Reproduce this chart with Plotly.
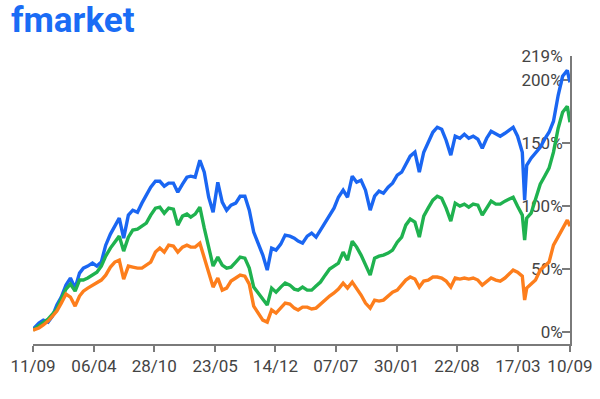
import plotly.graph_objects as go

dates = [
    "2020-09-11", "2020-10-01", "2020-10-16", "2020-11-01", "2020-11-16", "2020-12-01", "2020-12-16",
    "2021-01-01", "2021-01-16", "2021-02-01", "2021-02-16", "2021-03-01", "2021-03-16",
    "2021-04-01", "2021-04-16", "2021-05-01", "2021-05-16", "2021-06-01", "2021-06-16",
    "2021-07-01", "2021-07-16", "2021-08-01", "2021-08-16", "2021-09-01", "2021-09-16",
    "2021-10-01", "2021-10-16", "2021-11-01", "2021-11-16", "2021-12-01", "2021-12-16",
    "2022-01-01", "2022-01-16", "2022-02-01", "2022-02-16", "2022-03-01", "2022-03-16",
    "2022-04-01", "2022-04-16", "2022-05-01", "2022-05-16", "2022-06-01", "2022-06-16",
    "2022-07-01", "2022-07-16", "2022-08-01", "2022-08-16", "2022-09-01", "2022-09-16",
    "2022-10-01", "2022-10-16", "2022-11-01", "2022-11-16", "2022-12-01", "2022-12-16",
    "2023-01-01", "2023-01-16", "2023-02-01", "2023-02-16", "2023-03-01", "2023-03-16",
    "2023-04-01", "2023-04-16", "2023-05-01", "2023-05-16", "2023-06-01", "2023-06-16",
    "2023-07-01", "2023-07-16", "2023-08-01", "2023-08-16", "2023-09-01", "2023-09-16",
    "2023-10-01", "2023-10-16", "2023-11-01", "2023-11-16", "2023-12-01", "2023-12-16",
    "2024-01-01", "2024-01-16", "2024-02-01", "2024-02-16", "2024-03-01", "2024-03-16",
    "2024-04-01", "2024-04-16", "2024-05-01", "2024-05-16", "2024-06-01", "2024-06-16",
    "2024-07-01", "2024-07-16", "2024-08-01", "2024-08-16", "2024-09-01", "2024-09-16",
    "2024-10-01", "2024-10-16", "2024-11-01", "2024-11-16", "2024-12-01", "2024-12-16",
    "2025-01-01", "2025-01-16", "2025-02-01", "2025-02-16", "2025-03-01", "2025-03-16",
    "2025-04-01", "2025-04-09", "2025-04-16", "2025-05-01", "2025-05-16", "2025-06-01",
    "2025-06-16", "2025-07-01", "2025-07-16", "2025-08-01", "2025-08-16", "2025-09-01",
    "2025-09-10",
]

blue_values = [
    2.4, 7.1, 9.5, 7.9, 12.7, 21.4, 27.8,
    37.3, 42.9, 34.9, 46.8, 50.8, 52.4, 54.8, 52.4, 55.6, 69.0, 77.8, 84.1,
    90.5, 74.6, 92.9, 96.8, 95.2, 102.4, 109.5, 115.1, 119.8, 119.8, 115.9, 118.3,
    118.3, 111.1, 117.5, 123.0, 123.8, 123.0, 136.5, 127.0, 107.1, 95.2, 119.0, 103.2,
    96.8, 100.8, 102.4, 107.9, 107.9, 96.8, 79.4, 69.8, 61.1, 49.2, 66.7, 65.1,
    69.8, 77.0, 76.2, 74.6, 72.2, 70.6, 76.2, 78.6, 75.4, 81.0, 87.3, 93.7,
    98.4, 107.1, 112.7, 107.1, 123.8, 119.0, 120.6, 112.7, 96.8, 107.9, 111.9, 110.3,
    115.1, 118.3, 124.6, 127.0, 133.3, 139.7, 142.9, 127.0, 142.9, 150.8, 158.7, 162.7,
    161.1, 152.4, 140.5, 155.6, 154.0, 157.1, 154.0, 155.6, 153.2, 146.0, 154.0, 159.5,
    157.1, 155.6, 157.9, 160.3, 162.7, 155.6,
    142.9, 104.8, 132.5, 138.1, 142.1, 146.8, 153.2, 158.7, 167.5, 188.1, 203.2, 207.9,
    198.4,
]

green_values = [
    1.6, 4.8, 7.1, 10.3, 14.3, 18.3, 26.2,
    34.1, 38.1, 32.5, 41.3, 41.3, 42.9, 45.2, 47.6, 52.4, 60.3, 66.7, 71.4,
    76.2, 64.3, 75.4, 81.0, 81.7, 84.1, 86.5, 92.9, 98.4, 99.2, 94.4, 98.4,
    97.6, 84.9, 92.1, 93.7, 91.3, 93.7, 99.2, 82.5, 66.7, 52.4, 59.5, 53.2,
    50.8, 51.6, 55.6, 59.5, 58.7, 50.8, 35.7, 31.0, 25.4, 21.4, 34.9, 31.7,
    35.7, 38.9, 37.3, 34.1, 33.3, 35.7, 33.3, 33.3, 36.5, 39.7, 45.2, 50.0,
    52.4, 54.8, 63.5, 57.1, 72.2, 67.5, 61.1, 54.0, 45.2, 58.7, 60.3, 61.1,
    62.7, 65.1, 71.4, 75.4, 84.9, 89.7, 87.3, 75.4, 92.1, 98.4, 104.8, 107.9,
    106.3, 98.4, 88.1, 102.4, 100.0, 101.6, 99.2, 101.6, 100.8, 92.9, 98.4, 104.0,
    101.6, 101.6, 104.0, 105.6, 107.1, 100.0,
    92.9, 73.0, 90.5, 94.4, 104.8, 117.5, 123.8, 130.2, 142.9, 161.9, 174.6, 179.4,
    166.7,
]

orange_values = [
    1.6, 3.2, 5.6, 8.7, 12.7, 16.7, 23.0,
    30.2, 27.8, 20.6, 28.6, 32.5, 34.9, 37.3, 38.9, 41.3, 45.2, 51.6, 55.6,
    57.1, 42.1, 52.4, 51.6, 50.8, 50.8, 53.2, 55.6, 63.5, 66.7, 63.5, 69.0,
    68.3, 63.5, 67.5, 69.0, 67.5, 67.5, 70.6, 58.7, 47.6, 35.7, 42.9, 33.3,
    34.9, 40.5, 42.9, 45.2, 44.4, 38.1, 20.6, 15.1, 9.5, 7.9, 17.5, 15.1,
    19.0, 23.0, 22.2, 19.0, 17.5, 19.8, 19.8, 18.3, 19.0, 22.2, 25.4, 28.6,
    31.0, 34.1, 38.9, 34.9, 39.7, 34.9, 29.4, 23.0, 19.0, 25.4, 24.6, 25.4,
    28.6, 31.7, 33.3, 37.3, 41.3, 43.7, 42.1, 35.7, 40.5, 41.3, 43.7, 43.7,
    42.9, 40.5, 35.7, 42.9, 42.1, 42.9, 42.1, 42.9, 41.3, 37.3, 40.5, 42.9,
    41.3, 40.5, 42.9, 46.8, 49.2, 47.6,
    44.4, 25.4, 34.9, 38.1, 41.3, 49.2, 52.4, 55.6, 69.0, 76.2, 82.5, 88.9,
    84.1,
]

series_colors = ["#1a66f2", "#1fb24f", "#fd7e1c"]

x_tick_dates = ["2020-09-11", "2021-04-06", "2021-10-28", "2022-05-23", "2022-12-14",
                "2023-07-07", "2024-01-30", "2024-08-22", "2025-03-17", "2025-09-10"]
x_tick_labels = ["11/09", "06/04", "28/10", "23/05", "14/12", "07/07", "30/01", "22/08", "17/03", "10/09"]

y_tick_values = [0, 50, 100, 150, 200, 219]
y_tick_labels = ["0%", "50%", "100%", "150%", "200%", "219%"]

fig = go.Figure()
for vals, col in zip([blue_values, green_values, orange_values], series_colors):
    fig.add_trace(go.Scatter(x=dates, y=vals, mode="lines",
                             line=dict(color=col, width=3.4), hoverinfo="skip"))

axis_col = "#7a7a7a"
fig.update_layout(
    width=600, height=399,
    margin=dict(l=33, r=30, t=56, b=55),
    paper_bgcolor="white", plot_bgcolor="white",
    showlegend=False,
    font=dict(family="Roboto", size=17, color="#444444"),
    xaxis=dict(
        type="date", automargin=False,
        range=["2020-09-10 20:00", "2025-09-10 04:00"],
        tickmode="array", tickvals=x_tick_dates, ticktext=x_tick_labels,
        showgrid=False, zeroline=False,
        showline=True, linecolor=axis_col, linewidth=1.5,
        ticks="outside", ticklen=6, tickwidth=1.5, tickcolor=axis_col,
        tickfont=dict(size=17, color="#444444"),
    ),
    yaxis=dict(
        side="right", automargin=False,
        range=[-9.5, 219.3],
        tickmode="array", tickvals=y_tick_values, ticktext=y_tick_labels,
        showgrid=False, zeroline=False,
        showline=True, linecolor=axis_col, linewidth=1.5,
        ticks="inside", ticklen=8, tickwidth=1.5, tickcolor=axis_col,
        ticklabelposition="inside", ticklabeloverflow="allow",
        tickfont=dict(size=17, color="#444444"),
        layer="below traces",
    ),
    annotations=[dict(
        text="<b>fmarket</b>", xref="paper", yref="paper",
        x=-0.045, y=1.2, xanchor="left", yanchor="top", showarrow=False,
        font=dict(family="Roboto", size=35, color="#1a6cf5"),
    )],
)

fig.write_html("out.html",
               config={"displayModeBar": False},
               post_script="document.body.style.margin='0';document.body.style.overflow='hidden';")
